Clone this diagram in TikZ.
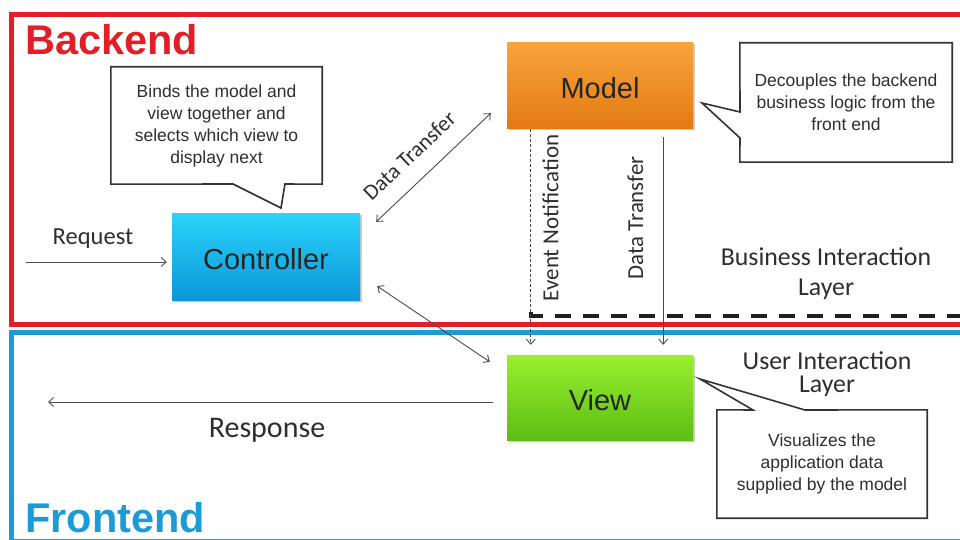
\documentclass[tikz,border=0pt]{standalone}
\usepackage{fontspec}
\setmainfont{Liberation Sans}
\newfontfamily\carl{Carlito}
\usetikzlibrary{arrows.meta,shadows,calc}

\definecolor{backred}{HTML}{E21F27}
\definecolor{frontblue}{HTML}{1D9BD7}
\definecolor{inkgrey}{HTML}{2E2E2E}
\definecolor{wire}{HTML}{4A4A4A}
\definecolor{ctrltop}{HTML}{2BD3FA}
\definecolor{ctrlbot}{HTML}{0A97DA}
\definecolor{modeltop}{HTML}{F8A43C}
\definecolor{modelbot}{HTML}{E37A12}
\definecolor{viewtop}{HTML}{9AF02E}
\definecolor{viewbot}{HTML}{5CBD14}

\tikzset{
  frame/.style={line width=5pt},
  tierlabel/.style={anchor=base west, inner sep=0pt, font=\bfseries\fontsize{41.5}{41.5}\selectfont},
  mvcbox/.style={minimum width=#1, minimum height=86pt, inner sep=0pt,
    text height=25.8pt, text depth=0pt,
    text=black!85, font=\fontsize{29}{34}\selectfont,
    drop shadow={shadow xshift=1.5pt, shadow yshift=-1.5pt, opacity=.35, fill=black!60}},
  notetext/.style={align=center, text=inkgrey, inner sep=0pt,
    font=\fontsize{17.5}{22}\selectfont},
  noteline/.style={draw=black!80, line width=1.6pt, line join=miter},
  layerlabel/.style={align=center, text=inkgrey, inner sep=0pt},
  flowlabel/.style={text=inkgrey, inner sep=0pt, font=\carl\fontsize{23}{26}\selectfont},
  tip/.tip={Straight Barb[length=5pt,width=9pt]},
  onearrow/.style={draw=wire, line width=0.9pt, -tip},
  twoarrow/.style={draw=wire, line width=0.9pt, tip-tip},
  eventline/.style={onearrow, dash pattern=on 3pt off 2pt},
  layerdash/.style={draw=black!88, line width=3.5pt, dash pattern=on 16pt off 12pt}
}

\begin{document}
\begin{tikzpicture}[x=1pt,y=-1pt]
\useasboundingbox (0,0) rectangle (960,540);
\clip (0,0) rectangle (960,540);

% tier frames
\draw[frame, backred] (11,14.5) rectangle (975,324.5);
\draw[frame, frontblue] (11,332) rectangle (975,541);
\node[tierlabel, text=backred] (backend) at (25,55) {Backend};
\node[tierlabel, text=frontblue] (frontend) at (25,532) {Frontend};

% the three MVC parts
\node[mvcbox=188pt, minimum height=87pt, top color=ctrltop, bottom color=ctrlbot] (ctrl) at (266,256.5) {Controller};
\node[mvcbox=186pt, top color=modeltop, bottom color=modelbot] (model) at (600,86) {Model};
\node[mvcbox=186pt, minimum height=85pt, top color=viewtop, bottom color=viewbot] (view) at (600,397.5) {View};

% callout notes
\node[notetext, minimum width=211pt, minimum height=117pt] (cnote) at (216.5,125.5)
  {Binds the model and\\view together and\\selects which view to\\display next};
\draw[noteline] (cnote.north west) -- (cnote.north east) -- (cnote.south east)
  -- (285,184) -- (281,208) -- (233,184) -- (cnote.south west) -- cycle;

\node[notetext, minimum width=212pt, minimum height=119pt] (mnote) at (846,102.5)
  {Decouples the backend\\business logic from the\\front end};
\draw[noteline] (mnote.north west) -- (mnote.north east) -- (mnote.south east)
  -- (mnote.south west) -- (740,138) -- (702,103) -- (740,112) -- cycle;

\node[notetext, minimum width=210pt, minimum height=108pt] (vnote) at (822,464)
  {Visualizes the\\application data\\supplied by the model};
\draw[noteline] (vnote.north west) -- (753,410) -- (700,379) -- (805,410)
  -- (vnote.north east) -- (vnote.south east) -- (vnote.south west) -- cycle;

% layer captions
\node[layerlabel, font=\carl\fontsize{25.8}{30}\selectfont] (bizlayer) at (826,274)
  {Business Interaction\\Layer};
\node[layerlabel, font=\carl\fontsize{25.8}{23.5}\selectfont] (uilayer) at (827,374)
  {User Interaction\\Layer};

% boundary between the layers
\draw[layerdash] (531,312) -- (531,316) -- (962,316);

% request and response
\coordinate (client) at (26,262);
\coordinate (reply) at (48,402);
\draw[onearrow] (client) -- ([xshift=-5pt,yshift=-5.5pt]ctrl.west);
\node[flowlabel, anchor=base, font=\carl\fontsize{24.5}{26}\selectfont] (reqlbl) at (93,244) {Request};
\draw[onearrow] ([xshift=-14pt,yshift=-4.5pt]view.west) -- (reply);
\node[flowlabel, anchor=base, font=\carl\fontsize{30}{32}\selectfont] (resplbl) at (267,437) {Response};

% controller links
\draw[twoarrow] ([xshift=16pt,yshift=-9pt]ctrl.north east)
  -- node[flowlabel, sloped, pos=0.44, above=17pt, font=\carl\fontsize{22}{26}\selectfont] (dtdiag) {Data Transfer}
  ([xshift=-16pt,yshift=16pt]model.south west);
\draw[twoarrow] ([xshift=17pt,yshift=14pt]ctrl.south east)
  -- ([xshift=-17pt,yshift=-7pt]view.north west);

% model to view
\draw[eventline] ([xshift=24pt]model.south west) -- ([xshift=24pt,yshift=10pt]view.north west);
\draw[onearrow] ([xshift=-30pt,yshift=-8pt]model.south east) -- ([xshift=-30pt,yshift=10pt]view.north east);
\node[flowlabel, rotate=90, font=\carl\fontsize{23}{26}\selectfont] (evlbl) at (550.5,218) {Event Notification};
\node[flowlabel, rotate=90, font=\carl\fontsize{22.8}{26}\selectfont] (dtlbl) at (635.5,218) {Data Transfer};
\end{tikzpicture}
\end{document}
